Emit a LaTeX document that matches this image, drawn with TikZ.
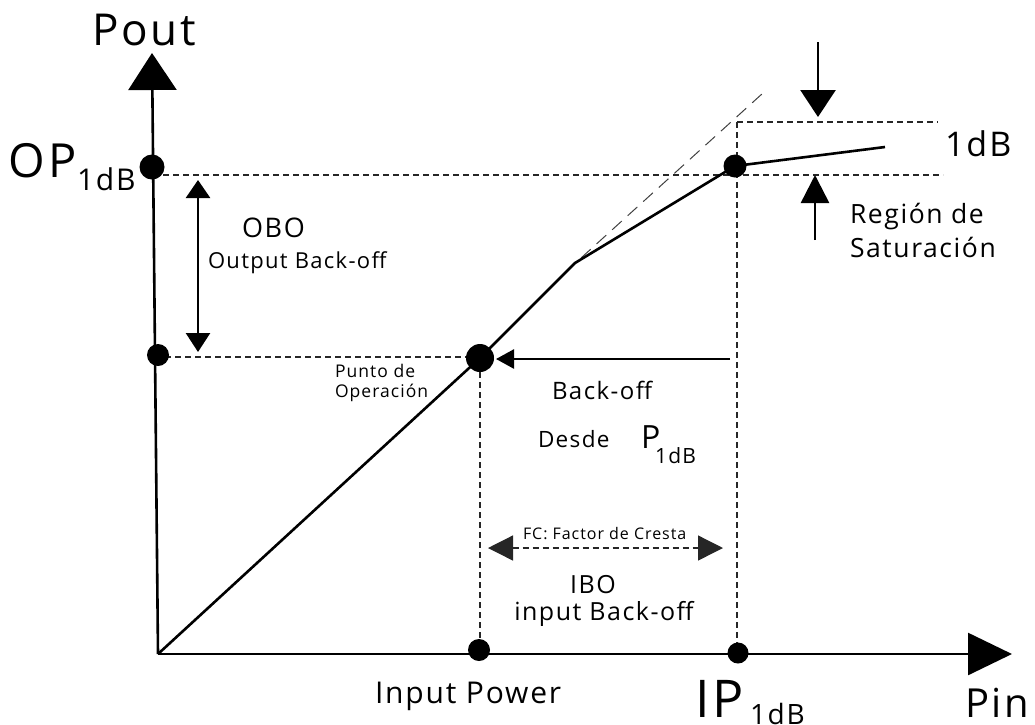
\documentclass[tikz,border=0pt]{standalone}
\usepackage{fontspec}
\setmainfont{Open Sans}[LetterSpace=6]
\usetikzlibrary{arrows.meta}
\newcommand{\fsz}[1]{\fontsize{#1}{#1}\selectfont}

\begin{document}
\begin{tikzpicture}[x=1pt,y=-1pt,
  lbl/.style={anchor=base west, inner sep=0pt, outer sep=0pt},
  clbl/.style={anchor=base, inner sep=0pt, outer sep=0pt},
  dot/.style={circle, fill=black, inner sep=0pt, outer sep=0pt},
  axisline/.style={line width=2.6pt},
  curve/.style={line width=2.6pt, line join=round},
  guide/.style={line width=1.3pt, dash pattern=on 6pt off 4pt, black!85},
  asym/.style={line width=1pt, dash pattern=on 13pt off 8pt, black!75},
  pointer/.style={line width=2.6pt}
]
\useasboundingbox (0,0) rectangle (1035,724);

% key points
\coordinate (origin) at (158,654);
\coordinate (ytip) at (152,53);
\coordinate (xtip) at (1012,654);
\coordinate (knee) at (575,263);
\coordinate (satend) at (885,147);
\coordinate (asymA) at (581,258);
\coordinate (asymB) at (763,93);

% guide lines
\coordinate (g1a) at (163,175);  \coordinate (g1b) at (943,175);
\coordinate (g2a) at (737,122);  \coordinate (g2b) at (938,122);
\coordinate (g3a) at (165,357);  \coordinate (g3b) at (466,357);
\coordinate (g4a) at (737,122);  \coordinate (g4b) at (737,650);
\coordinate (g5a) at (480,372);  \coordinate (g5b) at (480,645);
\draw[guide] (g1a) -- (g1b);
\draw[guide] (g2a) -- (g2b);
\draw[guide] (g3a) -- (g3b);
\draw[guide] (g4a) -- (g4b);
\draw[guide] (g5a) -- (g5b);
\draw[asym] (asymA) -- (asymB);

% axes
\draw[axisline, -{Triangle[width=48pt,length=37pt]}] (origin) -- (ytip);
\draw[axisline, -{Triangle[width=42pt,length=44pt]}] (origin) -- (xtip);

% dots
\node[dot, minimum size=25pt] (op1db) at (152,167) {};
\node[dot, minimum size=22pt] (opout) at (158,355) {};
\node[dot, minimum size=28pt] (oppt) at (480,358) {};
\node[dot, minimum size=23pt] (sat) at (735,166) {};
\node[dot, minimum size=22pt] (inpw) at (479,650) {};
\node[dot, minimum size=21pt] (ip1db) at (738,653) {};

% transfer characteristic
\draw[curve] (origin) -- (oppt.center) -- (knee) -- (sat.center) -- (satend);

% 1 dB compression markers
\coordinate (dnA) at (818,42);  \coordinate (dnB) at (818,117);
\coordinate (upA) at (815,240); \coordinate (upB) at (815,175);
\draw[pointer, -{Triangle[width=35pt,length=27pt]}] (dnA) -- (dnB);
\draw[pointer, -{Triangle[width=28pt,length=28pt]}] (upA) -- (upB);

% output back-off
\coordinate (oboA) at (198,180); \coordinate (oboB) at (198,352);
\draw[pointer, {Triangle[width=24pt,length=18pt]}-{Triangle[width=24pt,length=19pt]}] (oboA) -- (oboB);

% back-off from P1dB
\coordinate (boA) at (730,359); \coordinate (boB) at (496,359);
\draw[pointer, -{Triangle[width=19pt,length=18pt]}] (boA) -- (boB);

% crest factor
\coordinate (fcA) at (488,548); \coordinate (fcB) at (723,548);
\draw[guide, line width=1.3pt, {Triangle[width=25pt,length=25pt]}-{Triangle[width=25pt,length=25pt]}] (fcA) -- (fcB);

% labels
\node[clbl] (pout) at (144,45) {\fsz{44}Pout};
\node[lbl] (opl) at (9,177) {\fsz{47}OP};
\node[lbl] (opsub) at (77,190) {\fsz{30}1dB};
\node[lbl] (pin) at (965,717) {\fsz{40}Pin};
\node[lbl] (onedb) at (945,156) {\fsz{34}1dB};
\node[lbl] (reg1) at (850,223) {\fsz{26.5}Región de};
\node[lbl] (reg2) at (850,257) {\fsz{26.5}Saturación};
\node[lbl] (obo) at (242,237) {\fsz{27}OBO};
\node[lbl] (obo2) at (208,268) {\fsz{22}Output Back-off};
\node[lbl] (pto1) at (335,377) {\fsz{17.5}Punto de};
\node[lbl] (pto2) at (335,397) {\fsz{17.5}Operación};
\node[lbl] (bo) at (552,399) {\fsz{24}Back-off};
\node[lbl] (desde) at (538,447) {\fsz{22.5}Desde};
\node[lbl] (pp) at (641,448) {\fsz{32}P};
\node[lbl] (ppsub) at (655,463) {\fsz{21}1dB};
\node[lbl] (fc) at (523,539) {\fsz{16}FC: Factor de Cresta};
\node[clbl] (ibo) at (593,593) {\fsz{25}IBO};
\node[clbl] (ibo2) at (604,620) {\fsz{25}input Back-off};
\node[lbl] (inp) at (375,703) {\fsz{30}Input Power};
\node[lbl] (ipl) at (695,717) {\fsz{52}IP};
\node[lbl] (ipsub) at (750,724) {\fsz{28}1dB};
\end{tikzpicture}
\end{document}
